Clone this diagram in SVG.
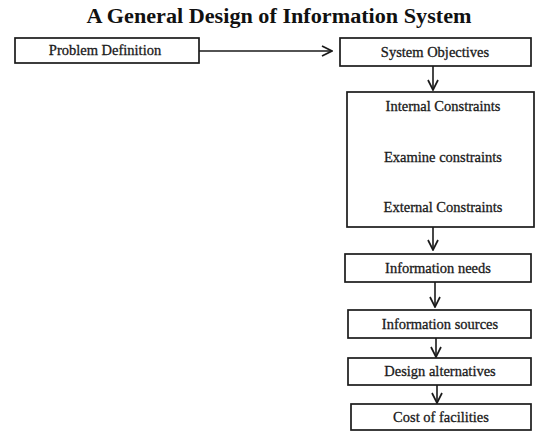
<svg xmlns="http://www.w3.org/2000/svg" width="536" height="432" viewBox="0 0 536 432">
<style>
.box{fill:#fff;stroke:#1a1a1a;stroke-width:1.7}
.t{font-family:"Liberation Serif","Times New Roman",serif;font-size:14.5px;fill:#1a1a1a;stroke:#1a1a1a;stroke-width:0.3;text-anchor:middle}
.title{font-family:"Liberation Serif","Times New Roman",serif;font-size:20px;font-weight:bold;fill:#111;text-anchor:middle}
.c{fill:none;stroke:#1a1a1a;stroke-width:1.6}
</style>
<defs>
<marker id="ah" viewBox="0 0 12 12" refX="11" refY="6" markerWidth="12" markerHeight="12" markerUnits="userSpaceOnUse" orient="auto">
<path d="M1,1 L11,6 L1,11" fill="none" stroke="#1a1a1a" stroke-width="1.7"/>
</marker>
</defs>
<rect width="536" height="432" fill="#fff"/>
<text class="title" x="279" y="23" textLength="385" lengthAdjust="spacingAndGlyphs">A General Design of Information System</text>
<g id="connectors">
<line class="c" x1="199" y1="51" x2="332" y2="51" marker-end="url(#ah)"/>
<line class="c" x1="433" y1="66" x2="433" y2="90" marker-end="url(#ah)"/>
<line class="c" x1="433" y1="227" x2="433" y2="250" marker-end="url(#ah)"/>
<line class="c" x1="435" y1="282" x2="435" y2="307" marker-end="url(#ah)"/>
<line class="c" x1="436" y1="338" x2="436" y2="357" marker-end="url(#ah)"/>
<line class="c" x1="437" y1="385" x2="437" y2="403" marker-end="url(#ah)"/>
</g>
<g id="problem"><rect class="box" x="15" y="38" width="184" height="25"/><text class="t" x="105" y="55">Problem Definition</text></g>
<g id="objectives"><rect class="box" x="340" y="38" width="191" height="28"/><text class="t" x="435" y="57">System Objectives</text></g>
<g id="constraints"><rect class="box" x="347" y="92" width="187" height="135"/>
<text class="t" x="443" y="111">Internal Constraints</text>
<text class="t" x="443" y="162">Examine constraints</text>
<text class="t" x="443" y="212">External Constraints</text></g>
<g id="needs"><rect class="box" x="345" y="254" width="186" height="28"/><text class="t" x="438" y="273">Information needs</text></g>
<g id="sources"><rect class="box" x="348" y="310" width="183" height="28"/><text class="t" x="440" y="329">Information sources</text></g>
<g id="design"><rect class="box" x="348" y="358" width="183" height="27"/><text class="t" x="440" y="376">Design alternatives</text></g>
<g id="cost"><rect class="box" x="351" y="404" width="180" height="26"/><text class="t" x="441" y="422">Cost of facilities</text></g>
</svg>
